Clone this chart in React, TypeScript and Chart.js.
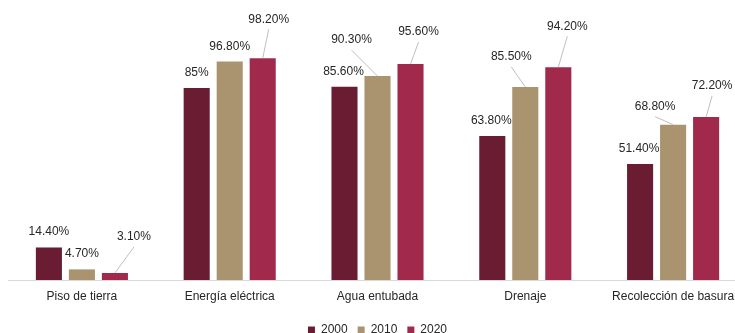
import React, { useEffect, useRef } from "react";
import { Chart, registerables } from "chart.js";

Chart.register(...registerables);

// Servicios en la vivienda (% de viviendas)
const categories = [
  "Piso de tierra",
  "Energía eléctrica",
  "Agua entubada",
  "Drenaje",
  "Recolección de basura",
];
const seriesLabels = ["2000", "2010", "2020"];
const values2000 = [14.4, 85, 85.6, 63.8, 51.4];
const values2010 = [4.7, 96.8, 90.3, 85.5, 68.8];
const values2020 = [3.1, 98.2, 95.6, 94.2, 72.2];

const colors = ["#6A1C32", "#AA9470", "#A12A4C"];

// Label placement relative to the top-centre of each bar: [dx, dy, leader line]
const labelOffsets: [number, number, boolean][][] = [
  // 2000
  [[0, -16, false], [0, -15, false], [-1, -15, false], [-1, -15, false], [-1, -15, false]],
  // 2010
  [[0, -16, false], [0, -15, false], [-26, -36, true], [-14, -30, true], [-18, -18, true]],
  // 2020
  [[19, -36, true], [6, -39, true], [8, -32, true], [9, -41, true], [6, -31, true]],
];

const FONT = "'Liberation Sans', Arial, Helvetica, sans-serif";

const formatPct = (v: number) =>
  Number.isInteger(v) ? `${v}%` : `${v.toFixed(2)}%`;

const valueLabels = {
  id: "valueLabels",
  afterDatasetsDraw(chart: any) {
    const { ctx } = chart;
    ctx.save();
    chart.data.datasets.forEach((ds: any, di: number) => {
      const meta = chart.getDatasetMeta(di);
      meta.data.forEach((bar: any, i: number) => {
        const [dx, dy, leader] = labelOffsets[di][i];
        const tx = bar.x + dx;
        const ty = bar.y + dy;
        if (leader) {
          ctx.beginPath();
          ctx.strokeStyle = "#BFBFBF";
          ctx.lineWidth = 1;
          ctx.moveTo(bar.x, bar.y);
          ctx.lineTo(tx, ty + 10);
          ctx.stroke();
        }
        ctx.fillStyle = "#262626";
        ctx.font = `12px ${FONT}`;
        ctx.textAlign = "center";
        ctx.textBaseline = "middle";
        ctx.fillText(formatPct(ds.data[i]), tx, ty);
      });
    });
    ctx.restore();
  },
};

export default function App() {
  const canvasRef = useRef<HTMLCanvasElement | null>(null);

  useEffect(() => {
    if (!canvasRef.current) return;
    Chart.defaults.font.family = FONT;
    const chart = new Chart(canvasRef.current, {
      type: "bar",
      data: {
        labels: categories,
        datasets: [values2000, values2010, values2020].map((d, k) => ({
          label: seriesLabels[k],
          data: d,
          backgroundColor: colors[k],
          borderWidth: 0,
          categoryPercentage: 0.67,
          barPercentage: 0.79,
        })),
      },
      options: {
        responsive: false,
        animation: false,
        devicePixelRatio: 1,
        layout: { padding: { left: 8, right: 3, top: 9, bottom: 0 } },
        scales: {
          x: {
            grid: { display: false },
            border: { display: true, color: "#D9D9D9", width: 1 },
            ticks: { color: "#262626", font: { size: 12 }, padding: 1 },
            afterFit: (scale: any) => {
              scale.height = 34;
            },
          },
          y: { display: false, min: 0, max: 120 },
        },
        plugins: {
          tooltip: { enabled: false },
          legend: {
            position: "bottom",
            fullSize: false,
            labels: {
              boxWidth: 7,
              boxHeight: 7,
              padding: 10,
              color: "#262626",
              font: { size: 12 },
            },
          },
        },
      },
      plugins: [valueLabels],
    });
    return () => chart.destroy();
  }, []);

  return (
    <div
      style={{
        position: "fixed",
        left: 0,
        top: 0,
        width: 735,
        height: 333,
        overflow: "hidden",
        background: "#fff",
      }}
    >
      <canvas
        ref={canvasRef}
        width={750}
        height={346}
        style={{ position: "absolute", left: 0, top: 0, width: 750, height: 346 }}
      />
    </div>
  );
}
